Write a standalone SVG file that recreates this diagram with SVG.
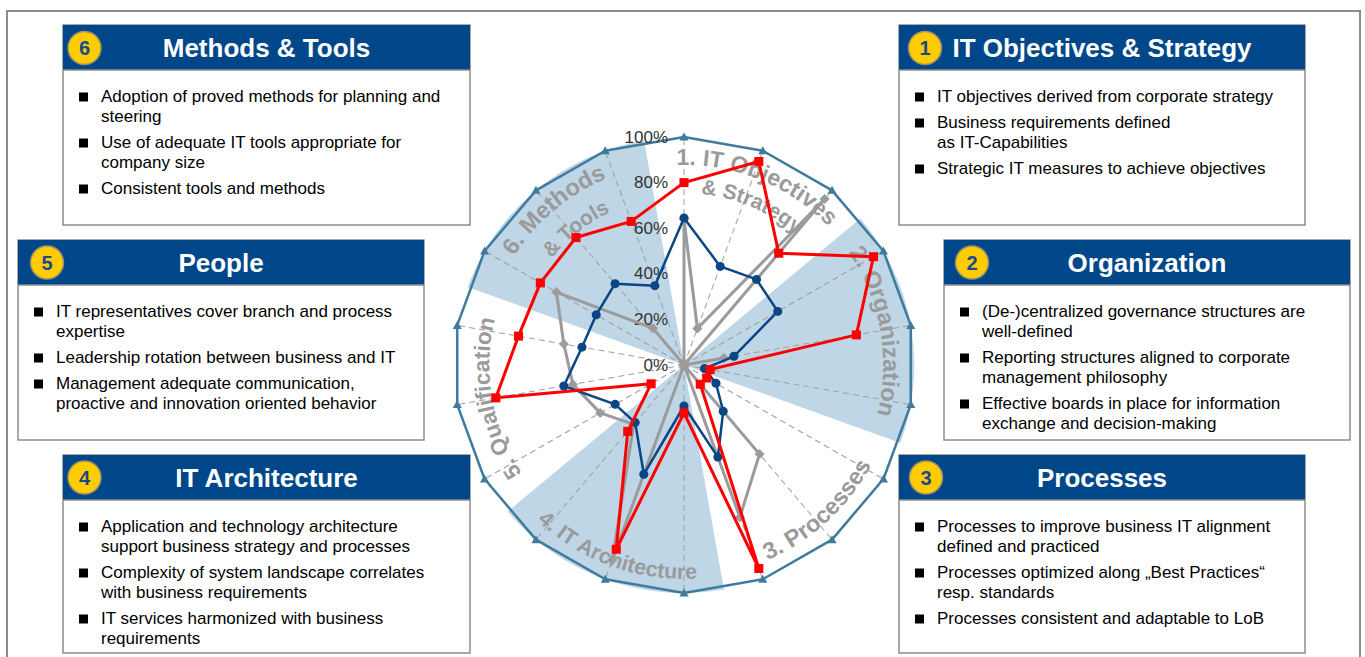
<svg xmlns="http://www.w3.org/2000/svg" width="1365" height="657" viewBox="0 0 1365 657">
<style>
.box{fill:#fff;stroke:#8c8c8c;stroke-width:1.5}
.hdr{fill:#00478a}
.hl{stroke:#8c8c8c;stroke-width:1.5}
.ttl{font-family:"Liberation Sans",Arial,sans-serif;font-weight:bold;font-size:26px;fill:#fff;text-anchor:middle}
.badge{fill:#ffcc00;stroke:#9a8f6a;stroke-width:1.5}
.num{font-family:"Liberation Sans",Arial,sans-serif;font-weight:bold;font-size:20px;fill:#1a4a8a;text-anchor:middle}
.txt{font-family:"Liberation Sans",Arial,sans-serif;font-size:17px;fill:#000}
.bul{fill:#000}
.pct{font-family:"Liberation Sans",Arial,sans-serif;font-size:17px;fill:#333;text-anchor:end}
.cat{font-family:"Liberation Sans",Arial,sans-serif;font-weight:bold;fill:#9a9a9a}
.wedge{fill:#bed6e6}
.spoke{fill:none;stroke:#a0a0a0;stroke-width:1;stroke-dasharray:6 4}
.outer{fill:none;stroke:#3f7b9f;stroke-width:2.5;stroke-linejoin:round;marker-start:url(#tri);marker-mid:url(#tri)}
.sg{fill:none;stroke:#9b9b9b;stroke-width:3;stroke-linejoin:round;marker-start:url(#dia);marker-mid:url(#dia)}
.sb{fill:none;stroke:#0b4684;stroke-width:2.5;stroke-linejoin:round;marker-start:url(#cir);marker-mid:url(#cir)}
.sr{fill:none;stroke:#ff0000;stroke-width:3;stroke-linejoin:round;marker-start:url(#sq);marker-mid:url(#sq)}
</style>
<defs>
<marker id="tri" markerUnits="userSpaceOnUse" markerWidth="12" markerHeight="12" viewBox="-6 -6 12 12" refX="0" refY="0"><path d="M0,-4.5 L4.5,3.5 L-4.5,3.5 Z" fill="#3f7b9f"/></marker>
<marker id="sq" markerUnits="userSpaceOnUse" markerWidth="12" markerHeight="12" viewBox="-6 -6 12 12" refX="0" refY="0"><rect x="-4.5" y="-4.5" width="9" height="9" fill="#ff0000"/></marker>
<marker id="cir" markerUnits="userSpaceOnUse" markerWidth="12" markerHeight="12" viewBox="-6 -6 12 12" refX="0" refY="0"><circle r="4.5" fill="#0b4684"/></marker>
<marker id="dia" markerUnits="userSpaceOnUse" markerWidth="12" markerHeight="12" viewBox="-6 -6 12 12" refX="0" refY="0"><path d="M0,-5 L5,0 L0,5 L-5,0 Z" fill="#9b9b9b"/></marker>
<path id="pL1a" d="M561.17,207.4 A200,200 0 0 1 882.35,337.17"/>
<path id="pL1b" d="M581.23,227.6 A171,171 0 0 1 854.02,344.16"/>
<path id="pL6a" d="M485.37,400.08 A202,202 0 0 1 753.39,175.18"/>
<path id="pL6b" d="M516.13,390.12 A170,170 0 0 1 746.6,206.83"/>
<path id="pL2" d="M752.36,178 A199,199 0 0 1 812.22,517.44"/>
<path id="pL5" d="M617.61,548.24 A195,195 0 0 1 558.96,215.62"/>
<path id="pL3" d="M620.55,567.19 A212,212 0 0 0 891.28,319.11"/>
<path id="pL4" d="M473.55,402.16 A214,214 0 0 0 821.86,528.93"/>
</defs>
<rect width="1365" height="657" fill="#fff"/>
<path d="M7,662 V11 H1360 V662" fill="none" stroke="#8c8c8c" stroke-width="2"/>

<g id="chart">
<g transform="translate(684,365) scale(1.01,1)">
<g id="wedges">
<path class="wedge" d="M0,0 L174.66,-146.56 A228,228 0 0 1 214.25,77.98 Z"/>
<path class="wedge" d="M0,0 L39.59,224.54 A228,228 0 0 1 -174.66,146.56 Z"/>
<path class="wedge" d="M0,0 L-214.25,-77.98 A228,228 0 0 1 -39.59,-224.54 Z"/>
</g>
<path class="spoke" d="M0,0 L0,-228 M0,0 L77.98,-214.25 M0,0 L146.56,-174.66 M0,0 L197.45,-114 M0,0 L224.54,-39.59 M0,0 L224.54,39.59 M0,0 L197.45,114 M0,0 L146.56,174.66 M0,0 L77.98,214.25 M0,0 L0,228 M0,0 L-77.98,214.25 M0,0 L-146.56,174.66 M0,0 L-197.45,114 M0,0 L-224.54,39.59 M0,0 L-224.54,-39.59 M0,0 L-197.45,-114 M0,0 L-146.56,-174.66 M0,0 L-77.98,-214.25"/>
<polygon class="outer" points="0,-228 77.98,-214.25 146.56,-174.66 197.45,-114 224.54,-39.59 224.54,39.59 197.45,114 146.56,174.66 77.98,214.25 0,228 -77.98,214.25 -146.56,174.66 -197.45,114 -224.54,39.59 -224.54,-39.59 -197.45,-114 -146.56,-174.66 -77.98,-214.25"/>
</g>
<g id="axis-labels">
<text class="pct" x="668" y="142.5">100%</text>
<text class="pct" x="668" y="188.1">80%</text>
<text class="pct" x="668" y="233.7">60%</text>
<text class="pct" x="668" y="279.3">40%</text>
<text class="pct" x="668" y="324.9">20%</text>
<text class="pct" x="668" y="370.5">0%</text>
</g>
<g id="category-labels">
<text class="cat" font-size="23"><textPath href="#pL1a" startOffset="50%" text-anchor="middle">1. IT Objectives</textPath></text>
<text class="cat" font-size="21"><textPath href="#pL1b" startOffset="50%" text-anchor="middle">&amp; Strategy</textPath></text>
<text class="cat" font-size="23.5"><textPath href="#pL2" startOffset="50%" text-anchor="middle">2. Organization</textPath></text>
<text class="cat" font-size="23.5"><textPath href="#pL3" startOffset="50%" text-anchor="middle">3. Processes</textPath></text>
<text class="cat" font-size="21.5"><textPath href="#pL4" startOffset="50%" text-anchor="middle">4. IT Architecture</textPath></text>
<text class="cat" font-size="22.5"><textPath href="#pL5" startOffset="50%" text-anchor="middle">5. Qualification</textPath></text>
<text class="cat" font-size="23.5"><textPath href="#pL6a" startOffset="50%" text-anchor="middle">6. Methods</textPath></text>
<text class="cat" font-size="21"><textPath href="#pL6b" startOffset="50%" text-anchor="middle">&amp; Tools</textPath></text>
</g>
<g id="series" transform="translate(684,365) scale(1.01,1)">
<polygon id="series-gray" class="sg" points="0,-145.9 13.27,-36.46 139.23,-165.92 0,0 39.49,-6.96 0,0 0,0 74.76,89.09 55.37,152.13 0,0 -70.97,194.98 -49.82,59.37 -82.96,47.9 -110,19.4 -118.97,-20.98 -126.35,-72.95 -30.79,-36.69 0,0"/>
<polygon id="series-blue" class="sb" points="0,-147.1 35.88,-98.57 71.8,-85.57 92.84,-53.6 49.44,-8.72 20.19,3.56 31.61,18.25 38.82,46.27 33.52,92.09 0,41 -39.78,109.29 -48.34,57.61 -68.16,39.35 -118.97,20.98 -101.04,-17.82 -86.86,-50.15 -68.26,-81.35 -28.87,-79.31"/>
<polygon id="series-red" class="sr" points="0,-182.4 74.08,-203.54 93.79,-111.77 187.58,-108.3 170.67,-30.09 25.8,4.55 22.52,13 16.13,19.23 74.08,203.54 0,47.9 -67.07,184.27 -55.67,66.34 -32.56,18.8 -186.33,32.85 -163.87,-28.9 -142.2,-82.1 -106.96,-127.47 -52.26,-143.58"/>
</g>
</g>

<g id="box6">
<rect class="box" x="63" y="25" width="407" height="200"/>
<rect class="hdr" x="63" y="25" width="407" height="45"/>
<line class="hl" x1="63" y1="70" x2="470" y2="70"/>
<circle class="badge" cx="84.5" cy="48" r="16.5"/>
<text class="num" x="84.5" y="55">6</text>
<text class="ttl" x="266.5" y="57">Methods &amp; Tools</text>
<rect class="bul" x="79" y="92.5" width="9" height="9"/>
<rect class="bul" x="79" y="138.5" width="9" height="9"/>
<rect class="bul" x="79" y="184.5" width="9" height="9"/>
<text class="txt" x="101" y="102">Adoption of proved methods for planning and</text>
<text class="txt" x="101" y="122">steering</text>
<text class="txt" x="101" y="148">Use of adequate IT tools appropriate for</text>
<text class="txt" x="101" y="168">company size</text>
<text class="txt" x="101" y="194">Consistent tools and methods</text>
</g>

<g id="box1">
<rect class="box" x="899" y="25" width="406" height="200"/>
<rect class="hdr" x="899" y="25" width="406" height="45"/>
<line class="hl" x1="899" y1="70" x2="1305" y2="70"/>
<circle class="badge" cx="925" cy="48" r="16.5"/>
<text class="num" x="925" y="55">1</text>
<text class="ttl" x="1102" y="57">IT Objectives &amp; Strategy</text>
<rect class="bul" x="915" y="92.5" width="9" height="9"/>
<rect class="bul" x="915" y="118.5" width="9" height="9"/>
<rect class="bul" x="915" y="164.5" width="9" height="9"/>
<text class="txt" x="937" y="102">IT objectives derived from corporate strategy</text>
<text class="txt" x="937" y="128">Business requirements defined</text>
<text class="txt" x="937" y="148">as IT-Capabilities</text>
<text class="txt" x="937" y="174">Strategic IT measures to achieve objectives</text>
</g>

<g id="box5">
<rect class="box" x="18" y="240" width="406" height="200"/>
<rect class="hdr" x="18" y="240" width="406" height="45"/>
<line class="hl" x1="18" y1="285" x2="424" y2="285"/>
<circle class="badge" cx="47" cy="262.5" r="16.5"/>
<text class="num" x="47" y="269.5">5</text>
<text class="ttl" x="221" y="272">People</text>
<rect class="bul" x="34" y="307.5" width="9" height="9"/>
<rect class="bul" x="34" y="353.5" width="9" height="9"/>
<rect class="bul" x="34" y="379.5" width="9" height="9"/>
<text class="txt" x="56" y="317">IT representatives cover branch and process</text>
<text class="txt" x="56" y="337">expertise</text>
<text class="txt" x="56" y="363">Leadership rotation between business and IT</text>
<text class="txt" x="56" y="389">Management adequate communication,</text>
<text class="txt" x="56" y="409">proactive and innovation oriented behavior</text>
</g>

<g id="box2">
<rect class="box" x="944" y="240" width="406" height="200"/>
<rect class="hdr" x="944" y="240" width="406" height="45"/>
<line class="hl" x1="944" y1="285" x2="1350" y2="285"/>
<circle class="badge" cx="972" cy="262.5" r="16.5"/>
<text class="num" x="972" y="269.5">2</text>
<text class="ttl" x="1147" y="272">Organization</text>
<rect class="bul" x="960" y="307.5" width="9" height="9"/>
<rect class="bul" x="960" y="353.5" width="9" height="9"/>
<rect class="bul" x="960" y="399.5" width="9" height="9"/>
<text class="txt" x="982" y="317">(De-)centralized governance structures are</text>
<text class="txt" x="982" y="337">well-defined</text>
<text class="txt" x="982" y="363">Reporting structures aligned to corporate</text>
<text class="txt" x="982" y="383">management philosophy</text>
<text class="txt" x="982" y="409">Effective boards in place for information</text>
<text class="txt" x="982" y="429">exchange and decision-making</text>
</g>

<g id="box4">
<rect class="box" x="63" y="455" width="407" height="198"/>
<rect class="hdr" x="63" y="455" width="407" height="45"/>
<line class="hl" x1="63" y1="500" x2="470" y2="500"/>
<circle class="badge" cx="84.5" cy="477.5" r="16.5"/>
<text class="num" x="84.5" y="484.5">4</text>
<text class="ttl" x="266.5" y="487">IT Architecture</text>
<rect class="bul" x="79" y="522.5" width="9" height="9"/>
<rect class="bul" x="79" y="568.5" width="9" height="9"/>
<rect class="bul" x="79" y="614.5" width="9" height="9"/>
<text class="txt" x="101" y="532">Application and technology architecture</text>
<text class="txt" x="101" y="552">support business strategy and processes</text>
<text class="txt" x="101" y="578">Complexity of system landscape correlates</text>
<text class="txt" x="101" y="598">with business requirements</text>
<text class="txt" x="101" y="624">IT services harmonized with business</text>
<text class="txt" x="101" y="644">requirements</text>
</g>

<g id="box3">
<rect class="box" x="899" y="455" width="406" height="198"/>
<rect class="hdr" x="899" y="455" width="406" height="45"/>
<line class="hl" x1="899" y1="500" x2="1305" y2="500"/>
<circle class="badge" cx="926" cy="477.5" r="16.5"/>
<text class="num" x="926" y="484.5">3</text>
<text class="ttl" x="1102" y="487">Processes</text>
<rect class="bul" x="915" y="522.5" width="9" height="9"/>
<rect class="bul" x="915" y="568.5" width="9" height="9"/>
<rect class="bul" x="915" y="614.5" width="9" height="9"/>
<text class="txt" x="937" y="532">Processes to improve business IT alignment</text>
<text class="txt" x="937" y="552">defined and practiced</text>
<text class="txt" x="937" y="578">Processes optimized along „Best Practices“</text>
<text class="txt" x="937" y="598">resp. standards</text>
<text class="txt" x="937" y="624">Processes consistent and adaptable to LoB</text>
</g>
</svg>
